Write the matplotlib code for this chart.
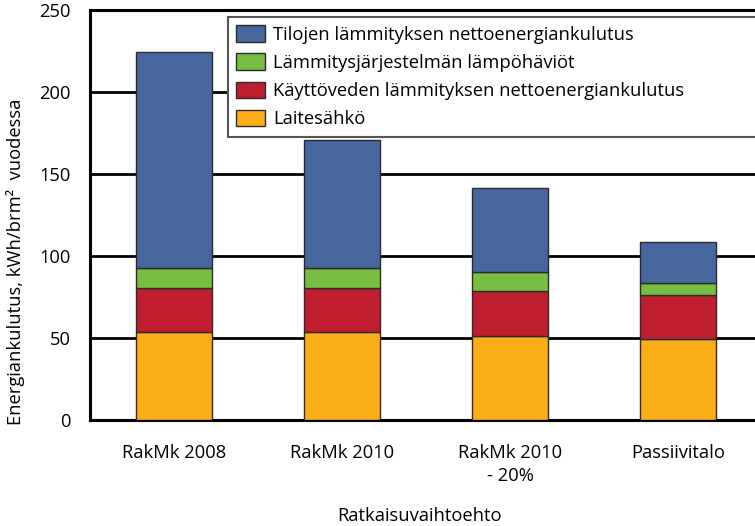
import matplotlib
matplotlib.use("Agg")
import matplotlib.pyplot as plt
import numpy as np

categories = ["RakMk 2008", "RakMk 2010", "RakMk 2010\n- 20%", "Passiivitalo"]
series_names = [
    "Tilojen lämmityksen nettoenergiankulutus",
    "Lämmitysjärjestelmän lämpöhäviöt",
    "Käyttöveden lämmityksen nettoenergiankulutus",
    "Laitesähkö",
]
laitesahko = [53.5, 53.5, 51.4, 49.6]
kayttovesi = [26.8, 26.8, 27.1, 26.8]
lampohavio = [12.2, 12.2, 11.9, 6.9]
tilojen = [131.7, 78.4, 50.9, 25.0]
yticks = [0, 50, 100, 150, 200, 250]

colors = {"tilo": "#46679E", "lhav": "#77BE43", "kvesi": "#BE1E2D", "lait": "#FBAE18"}

plt.rcParams['font.family'] = ['Open Sans', 'DejaVu Sans']
fs = 13.2

W, H = 755, 526
fig = plt.figure(figsize=(W / 100, H / 100), dpi=100)
ax_left, ax_right, ax_top, ax_bot = 90, 762, 9.7, 420
ax = fig.add_axes([ax_left / W, (H - ax_bot) / H, (ax_right - ax_left) / W, (ax_bot - ax_top) / H])

x = np.arange(len(categories))
bw = 0.452
ec = "#2b2b2b"
b1 = np.array(laitesahko)
b2 = b1 + np.array(kayttovesi)
b3 = b2 + np.array(lampohavio)
h_lait = ax.bar(x, laitesahko, bw, color=colors["lait"], edgecolor=ec, linewidth=1.0, zorder=3)
h_kv = ax.bar(x, kayttovesi, bw, bottom=b1, color=colors["kvesi"], edgecolor=ec, linewidth=1.0, zorder=3)
h_lh = ax.bar(x, lampohavio, bw, bottom=b2, color=colors["lhav"], edgecolor=ec, linewidth=1.0, zorder=3)
h_ti = ax.bar(x, tilojen, bw, bottom=b3, color=colors["tilo"], edgecolor=ec, linewidth=1.0, zorder=3)

ax.set_xlim(-0.5, len(categories) - 0.5)
ax.set_ylim(0, 250)
ax.set_yticks(yticks)
ax.set_xticks(x)
ax.set_xticklabels(categories, fontsize=fs, linespacing=1.4)
ax.tick_params(axis='y', length=0, pad=14, labelsize=fs)
ax.tick_params(axis='x', length=0, pad=17, labelsize=fs)
ax.yaxis.grid(True, color="black", linewidth=2.0, zorder=1)
ax.set_axisbelow(True)
for s in ["left", "bottom", "top"]:
    ax.spines[s].set_linewidth(2.2)
    ax.spines[s].set_color("black")
ax.spines["right"].set_visible(False)

ax.set_ylabel("Energiankulutus, kWh/brm²  vuodessa", fontsize=fs)
ax.yaxis.set_label_coords(-0.097, 0.385)
ax.set_xlabel("Ratkaisuvaihtoehto", fontsize=fs)
ax.xaxis.set_label_coords(0.491, -0.212)

# legend
lx0, ly0, lx1, ly1 = 228, 17, 775, 134
leg = fig.legend([h_ti, h_lh, h_kv, h_lait], series_names,
                 loc="upper left",
                 bbox_to_anchor=(lx0 / W, (H - ly1) / H, (lx1 - lx0) / W, (ly1 - ly0) / H),
                 mode="expand", borderaxespad=0, fontsize=fs,
                 handlelength=1.55, handleheight=1.0, handletextpad=0.45,
                 labelspacing=0.53, borderpad=0.45, fancybox=False, framealpha=1)
leg.get_frame().set_edgecolor("#555555")
leg.get_frame().set_linewidth(1.5)
for p in leg.get_patches():
    p.set_edgecolor(ec)
    p.set_linewidth(1.0)

fig.savefig("out.png", dpi=100)
